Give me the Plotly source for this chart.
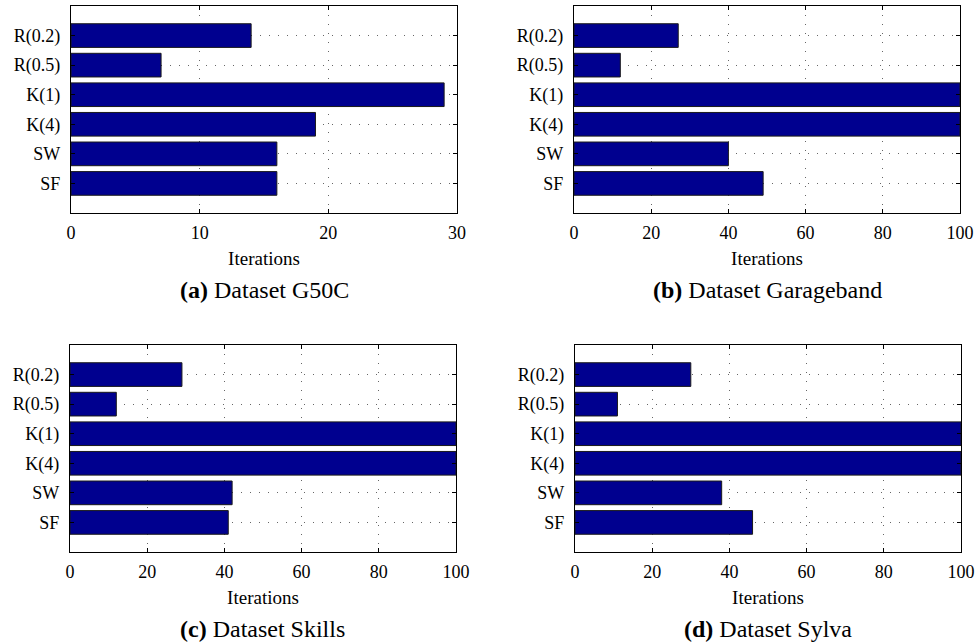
import plotly.graph_objects as go

categories = ["R(0.2)", "R(0.5)", "K(1)", "K(4)", "SW", "SF"]
g50c = [14, 7, 29, 19, 16, 16]
garageband = [27, 12, 100, 100, 40, 49]
skills = [29, 12, 100, 100, 42, 41]
sylva = [30, 11, 100, 100, 38, 46]

panels = [
    ("a", "Dataset G50C", g50c, [0, 30], [0, 10, 20, 30]),
    ("b", "Dataset Garageband", garageband, [0, 100], [0, 20, 40, 60, 80, 100]),
    ("c", "Dataset Skills", skills, [0, 100], [0, 20, 40, 60, 80, 100]),
    ("d", "Dataset Sylva", sylva, [0, 100], [0, 20, 40, 60, 80, 100]),
]

W, H = 978, 643
xdoms = [[71 / W, 457 / W], [574 / W, 960 / W], [70 / W, 456 / W], [575 / W, 961 / W]]
ydoms = [[1 - 213 / H, 1 - 6 / H], [1 - 213 / H, 1 - 6 / H],
         [1 - 552 / H, 1 - 345 / H], [1 - 552 / H, 1 - 345 / H]]
cap_y = [1 - 290 / H, 1 - 290 / H, 1 - 629 / H, 1 - 629 / H]

FONT = "Liberation Serif"
fig = go.Figure()
annotations = []
for i, (letter, name, vals, xr, xt) in enumerate(panels):
    sfx = "" if i == 0 else str(i + 1)
    fig.add_trace(go.Bar(
        x=vals, y=categories, orientation="h", width=0.8,
        marker=dict(color="#00008F", line=dict(color="#1a1a1a", width=1)),
        xaxis="x" + sfx, yaxis="y" + sfx, showlegend=False, hoverinfo="x+y",
    ))
    axcommon = dict(
        showline=True, linecolor="black", linewidth=1.3, mirror="ticks",
        ticks="inside", ticklen=4, tickcolor="black", tickwidth=1,
        showgrid=True, gridcolor="#666666", gridwidth=1, griddash="1px,8px",
        zeroline=False, tickfont=dict(family=FONT, size=18, color="black"),
        automargin=False,
    )
    fig.layout["xaxis" + sfx] = dict(
        axcommon, domain=xdoms[i], range=xr, tickvals=xt, anchor="y" + sfx,
        ticklabelstandoff=3,
        title=dict(text="Iterations", font=dict(family=FONT, size=19, color="black"), standoff=9),
    )
    fig.layout["yaxis" + sfx] = dict(
        axcommon, domain=ydoms[i], type="category", categoryarray=categories,
        range=[6, -1], anchor="x" + sfx, ticklabelstandoff=6,
    )
    annotations.append(dict(
        text="<b>(" + letter + ")</b> " + name, showarrow=False,
        x=(xdoms[i][0] + xdoms[i][1]) / 2, y=cap_y[i], xref="paper", yref="paper",
        xanchor="center", yanchor="middle",
        font=dict(family=FONT, size=24, color="black"),
    ))

fig.update_layout(
    width=W, height=H, margin=dict(l=0, r=0, t=0, b=0),
    plot_bgcolor="white", paper_bgcolor="white",
    annotations=annotations, bargap=0.2,
)
fig.write_html("out.html", config={"displayModeBar": False},
               post_script="document.body.style.margin='0';")
